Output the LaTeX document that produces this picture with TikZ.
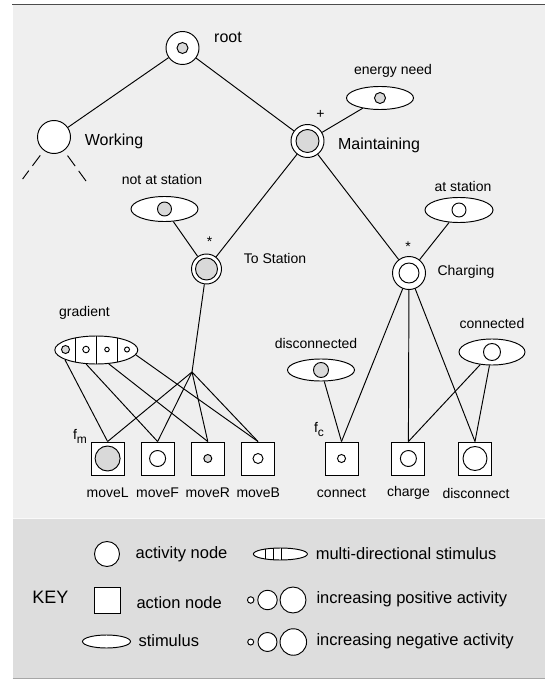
\documentclass[tikz,border=0pt]{standalone}
\usepackage{fontspec}
\setmainfont{Liberation Sans}
\usetikzlibrary{shapes.geometric}
\definecolor{bglight}{HTML}{EFEFEF}
\definecolor{bgkey}{HTML}{DDDDDD}
\definecolor{dotgray}{HTML}{D9D9D9}
\begin{document}
\begin{tikzpicture}[x=1pt,y=-1pt,
  ln/.style={line width=0.95pt, black},
  outerc/.style={circle, draw, line width=0.95pt, fill=white, minimum size=#1, inner sep=0pt},
  dotc/.style={circle, draw, line width=0.95pt, fill=#1, inner sep=0pt},
  stim/.style={ellipse, draw, line width=0.95pt, fill=white, inner sep=0pt},
  actbox/.style={rectangle, draw, line width=0.95pt, fill=white, minimum size=#1, inner sep=0pt},
  lbl/.style={font=\fontsize{14}{16}\selectfont, inner sep=0pt},
  big/.style={font=\fontsize{16}{19}\selectfont, inner sep=0pt},
  keytxt/.style={font=\fontsize{16.5}{19}\selectfont, inner sep=0pt, anchor=west},
]
\useasboundingbox (0,0) rectangle (545,679);
% backgrounds
\fill[bglight] (12.5,4.5) rectangle (545,517.5);
\fill[white!60!bglight] (12.5,517.5) rectangle (545,519);
\fill[bgkey] (12.5,519) rectangle (545,677.5);
\draw[line width=1.3pt, black!70] (12,4.5) -- (545,4.5);
\draw[line width=1pt, black!35] (12.5,678) -- (545,678);

% activity nodes
\node[outerc=33pt] (root) at (182.5,48) {};
\node[dotc=dotgray, minimum size=11pt] (rootin) at (root.center) {};
\node[outerc=33pt] (work) at (54,137) {};
\node[outerc=33pt] (maint) at (307.5,141) {};
\node[dotc=dotgray, minimum size=23pt] (maintin) at (maint.center) {};
\node[outerc=30pt] (tost) at (206.5,269) {};
\node[dotc=dotgray, minimum size=22pt] (tostin) at (tost.center) {};
\node[outerc=33pt] (charg) at (409,273) {};
\node[dotc=white, minimum size=20pt] (chargin) at (charg.center) {};

% stimuli
\node[stim, minimum width=67pt, minimum height=23pt] (energy) at (380,98) {};
\node[dotc=dotgray, minimum size=11pt] (energyin) at (energy.center) {};
\node[stim, minimum width=67pt, minimum height=25pt] (notat) at (164.5,209) {};
\node[dotc=dotgray, minimum size=14pt] (notatin) at (notat.center) {};
\node[stim, minimum width=68pt, minimum height=25pt] (atst) at (459,210) {};
\node[dotc=white, minimum size=14pt] (atstin) at (atst.center) {};
\node[stim, minimum width=67pt, minimum height=22pt] (discd) at (321,370) {};
\node[dotc=dotgray, minimum size=15pt] (discdin) at (discd.center) {};
\node[stim, minimum width=66pt, minimum height=26pt] (conn) at (492,352) {};
\node[dotc=white, minimum size=17pt] (connin) at (conn.center) {};

% gradient multi-directional stimulus
\node[stim, minimum width=83pt, minimum height=28pt] (grad) at (96.3,350) {};
\begin{scope}
  \clip (96.3,350) ellipse [x radius=41.5pt, y radius=14pt];
  \draw[ln] (75.8,330) -- (75.8,370) (96.3,330) -- (96.3,370) (117,330) -- (117,370);
\end{scope}
\node[dotc=dotgray, minimum size=8pt] (g1) at (65.5,349.5) {};
\node[dotc=white, minimum size=6.5pt] (g2) at (86,349.5) {};
\node[dotc=white, minimum size=4.5pt] (g3) at (107,349.5) {};
\node[dotc=white, minimum size=5pt] (g4) at (127,349.5) {};

% action nodes
\node[actbox=33pt] (moveL) at (107.6,458.5) {};
\node[dotc=dotgray, minimum size=25pt] (moveLin) at (moveL.center) {};
\node[actbox=33pt] (moveF) at (157.6,458.5) {};
\node[dotc=white, minimum size=16pt] (moveFin) at (moveF.center) {};
\node[actbox=33pt] (moveR) at (207.8,458.5) {};
\node[dotc=dotgray, minimum size=8pt] (moveRin) at (moveR.center) {};
\node[actbox=33pt] (moveB) at (258,458.5) {};
\node[dotc=white, minimum size=10pt] (moveBin) at (moveB.center) {};
\node[actbox=33pt] (connect) at (341.5,458.5) {};
\node[dotc=white, minimum size=8pt] (connectin) at (connect.center) {};
\node[actbox=33pt] (charge) at (408.4,458.5) {};
\node[dotc=white, minimum size=16pt] (chargein) at (charge.center) {};
\node[actbox=33pt] (disc) at (475,458.5) {};
\node[dotc=white, minimum size=24pt] (discin) at (disc.center) {};

\coordinate (junc) at (192,372);
\coordinate (wl) at (22.6,179);
\coordinate (wr) at (86,181);

% connectors
\draw[ln] (root) -- (work);
\draw[ln] (root) -- (maint);
\draw[ln] (maint) -- (energy);
\draw[ln] (maint) -- (tost);
\draw[ln] (maint) -- (charg);
\draw[ln] (tost) -- (notat);
\draw[ln] (tost) -- (junc);
\draw[ln] (junc) -- (moveL.north);
\draw[ln] (junc) -- (moveF.north);
\draw[ln] (junc) -- (moveR.north);
\draw[ln] (junc) -- (moveB.north);
\draw[ln] (grad.197) -- (moveL.north);
\draw[ln] (grad.234) -- (moveF.north);
\draw[ln] (grad.312) -- (moveR.north);
\draw[ln] (grad.353) -- (moveB.north);
\draw[ln] (charg) -- (atst);
\draw[ln] (charg) -- (connect.north);
\draw[ln] (charg) -- (charge.north);
\draw[ln] (charg) -- (disc.north);
\draw[ln] (discd) -- (connect.north);
\draw[ln] (conn) -- (charge.north);
\draw[ln] (conn) -- (disc.north);
\draw[ln, dash pattern=on 13pt off 6pt, dash phase=13pt] (work) -- (wl);
\draw[ln, dash pattern=on 13pt off 6pt, dash phase=13pt] (work) -- (wr);

% labels
\node[big] (troot) at (228,37) {root};
\node[big] (twork) at (114,141) {Working};
\node[big] (tmaint) at (379,145) {Maintaining};
\node[lbl] (tplus) at (320.5,114) {+};
\node[lbl] (tenergy) at (393,71) {energy need};
\node[lbl] (tnotat) at (162,179) {not at station};
\node[lbl] (tatst) at (463,186) {at station};
\node[lbl] (tstar1) at (209.5,242) {*};
\node[lbl] (ttost) at (275,258) {To Station};
\node[lbl] (tstar2) at (408,247) {*};
\node[lbl] (tcharg) at (466,272) {Charging};
\node[lbl] (tgrad) at (84.5,313) {gradient};
\node[lbl] (tdiscd) at (316,343) {disconnected};
\node[lbl] (tconn) at (492,323) {connected};
\node[lbl] (tfm) at (80,436) {f\raisebox{-4pt}{\fontsize{12}{12}\selectfont m}};
\node[lbl] (tfc) at (319,429) {f\raisebox{-4pt}{\fontsize{12}{12}\selectfont c}};
\node[lbl] (tmoveL) at (107.6,492.5) {moveL};
\node[lbl] (tmoveF) at (157.6,492.5) {moveF};
\node[lbl] (tmoveR) at (207.8,492.5) {moveR};
\node[lbl] (tmoveB) at (258.3,492.5) {moveB};
\node[lbl] (tconnect) at (341.5,493) {connect};
\node[lbl] (tcharge) at (408.4,493) {charge};
\node[lbl] (tdisc) at (476,493) {disconnect};

% key
\node[outerc=25pt] (kact) at (107,554) {};
\node[keytxt] (tkact) at (135.5,554) {activity node};
\node[stim, minimum width=54pt, minimum height=12pt] (kmulti) at (280.4,554) {};
\begin{scope}
  \clip (280.4,554) ellipse [x radius=27pt, y radius=6pt];
  \draw[ln] (265.5,545) -- (265.5,563) (273,545) -- (273,563) (281,545) -- (281,563);
\end{scope}
\node[keytxt] (tkmulti) at (315.6,554) {multi-directional stimulus};
\node[font=\fontsize{18}{20}\selectfont, inner sep=0pt] (tkey) at (50.4,597.5) {KEY};
\node[actbox=25.5pt] (kbox) at (107.3,600.5) {};
\node[keytxt] (tkbox) at (136.3,602.5) {action node};
\node[dotc=white, minimum size=6.5pt] (kp1) at (250.7,600) {};
\node[dotc=white, minimum size=19.5pt] (kp2) at (267.5,600) {};
\node[dotc=white, minimum size=26pt] (kp3) at (293,600) {};
\node[keytxt] (tkpos) at (316.3,599) {increasing positive activity};
\node[stim, minimum width=48pt, minimum height=13pt] (kstim) at (106.5,641.5) {};
\node[keytxt] (tkstim) at (138.3,640.5) {stimulus};
\node[dotc=white, minimum size=6pt] (kn1) at (250.7,642) {};
\node[dotc=white, minimum size=19pt] (kn2) at (267.5,642) {};
\node[dotc=white, minimum size=26.5pt] (kn3) at (293.3,642) {};
\node[keytxt] (tkneg) at (316.3,641) {increasing negative activity};
\end{tikzpicture}
\end{document}
